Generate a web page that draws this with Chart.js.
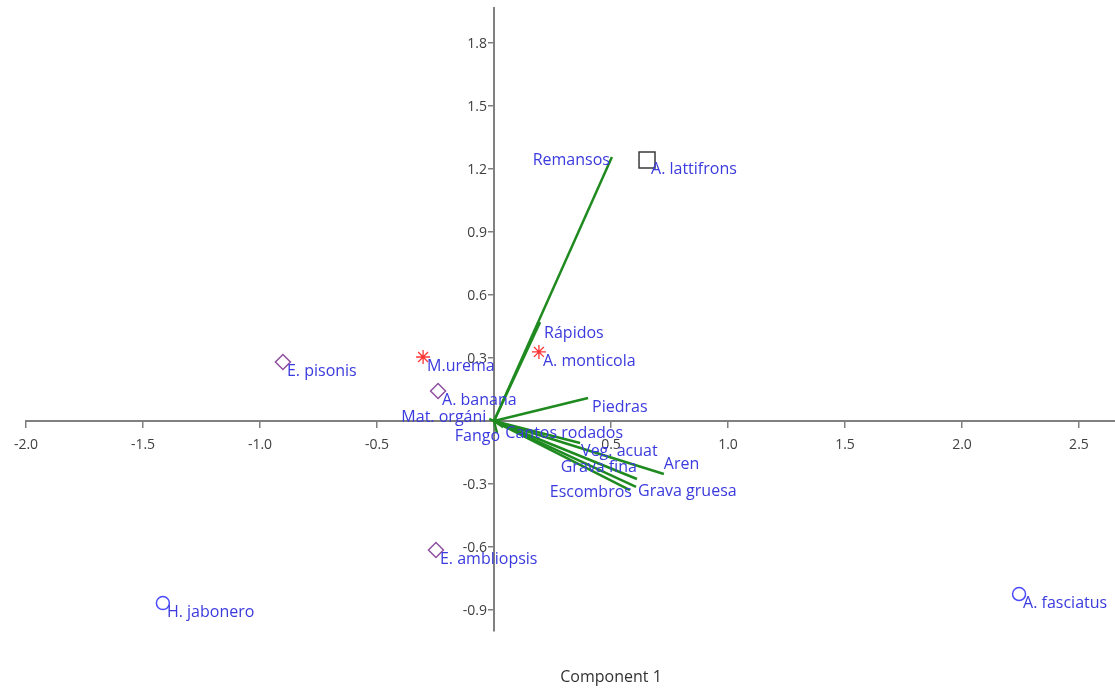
<!DOCTYPE html>
<html>
<head>
<meta charset="utf-8">
<script src="https://cdn.jsdelivr.net/npm/chart.js@4.4.1/dist/chart.umd.min.js"></script>
<style>
  html, body { margin: 0; padding: 0; background: #ffffff; }
  #wrap { width: 1115px; height: 690px; }
</style>
</head>
<body>
<div id="wrap"><canvas id="biplot" width="1115" height="690"></canvas></div>
<script>
// Species scores (Component 1, Component 2)
const speciesNames = ['A. lattifrons', 'A. monticola', 'M.urema', 'E. pisonis', 'A. banana', 'E. ambliopsis', 'H. jabonero', 'A. fasciatus'];
const speciesX = [0.654, 0.192, -0.303, -0.902, -0.239, -0.248, -1.415, 2.244];
const speciesY = [1.243, 0.329, 0.305, 0.281, 0.143, -0.614, -0.867, -0.824];
const speciesGroup = ['square', 'asterisk', 'asterisk', 'diamond', 'diamond', 'diamond', 'circle', 'circle'];

// Habitat variable loadings (vectors from the origin)
const variableNames = ['Remansos', 'Rápidos', 'Piedras', 'Mat. orgáni', 'Fango', 'Cantos rodados', 'Veg. acuat', 'Grava fina', 'Escombros', 'Grava gruesa', 'Aren'];
const variableX = [0.504, 0.197, 0.402, -0.020, 0.013, 0.040, 0.368, 0.611, 0.581, 0.607, 0.726];
const variableY = [1.257, 0.471, 0.110, 0.010, -0.057, -0.030, -0.105, -0.276, -0.329, -0.314, -0.252];

// Axis tick labels
const xTickLabels = ['-2.0', '-1.5', '-1.0', '-0.5', '0.5', '1.0', '1.5', '2.0', '2.5'];
const yTickLabels = ['-0.9', '-0.6', '-0.3', '0.3', '0.6', '0.9', '1.2', '1.5', '1.8'];
const xAxisTitle = 'Component 1';

// Marker look for each species group
const markerStyles = {
  square:   { pointStyle: 'rect',    radius: 11.3, color: '#3a3a3a', width: 1.5 },
  asterisk: { pointStyle: 'star',    radius: 7,    color: '#ff3535', width: 1.3 },
  diamond:  { pointStyle: 'rectRot', radius: 7.5,  color: '#8f4f9f', width: 1.5 },
  circle:   { pointStyle: 'circle',  radius: 6.5,  color: '#4a4aff', width: 1.5 }
};

// Text placement next to each mark: [dx, dy, align]
const labelPlacement = {
  'Remansos': [-2, 3, 'right'],
  'Rápidos': [4, 11, 'left'],
  'Piedras': [4, 10, 'left'],
  'Mat. orgáni': [-3, -1, 'right'],
  'Fango': [3, 3, 'right'],
  'Cantos rodados': [2, 6, 'left'],
  'Veg. acuat': [1, 8, 'left'],
  'Grava fina': [0, -12, 'right'],
  'Escombros': [2, 2, 'right'],
  'Grava gruesa': [2, 4, 'left'],
  'Aren': [0, -10, 'left']
};
const speciesLabelOffset = [4, 9];

const LABEL_BLUE = '#3a3ade';
const VECTOR_GREEN = '#1f8a1f';
const AXIS_GREY = '#808080';
const TICK_TEXT = '#404040';
const FONT = '"Open Sans", "Noto Sans", sans-serif';

const vectorDatasets = variableNames.map((name, i) => ({
  type: 'line',
  label: name,
  data: [{ x: 0, y: 0 }, { x: variableX[i], y: variableY[i] }],
  borderColor: VECTOR_GREEN,
  borderWidth: 2.5,
  pointRadius: 0,
  fill: false,
  tension: 0
}));

const speciesDataset = {
  type: 'scatter',
  label: 'Especies',
  data: speciesNames.map((n, i) => ({ x: speciesX[i], y: speciesY[i] })),
  pointStyle: speciesGroup.map(g => markerStyles[g].pointStyle),
  pointRadius: speciesGroup.map(g => markerStyles[g].radius),
  pointBorderColor: speciesGroup.map(g => markerStyles[g].color),
  pointBorderWidth: speciesGroup.map(g => markerStyles[g].width),
  pointBackgroundColor: 'rgba(0,0,0,0)'
};

// Tick labels beside the crossing axes (below the x axis, left of the y axis)
const axisTickText = {
  id: 'axisTickText',
  beforeDatasetsDraw(chart) {
    const { ctx, scales: { x, y } } = chart;
    const x0 = x.getPixelForValue(0);
    const y0 = y.getPixelForValue(0);
    ctx.save();
    ctx.font = '14px ' + FONT;
    ctx.fillStyle = TICK_TEXT;
    ctx.textBaseline = 'middle';
    ctx.textAlign = 'center';
    xTickLabels.forEach(t => ctx.fillText(t, x.getPixelForValue(parseFloat(t)), y0 + 24));
    ctx.textAlign = 'right';
    yTickLabels.forEach(t => ctx.fillText(t, x0 - 7, y.getPixelForValue(parseFloat(t)) + 1));
    ctx.restore();
  }
};

const textLabels = {
  id: 'textLabels',
  afterDatasetsDraw(chart) {
    const { ctx, scales: { x, y } } = chart;
    ctx.save();
    ctx.font = '16px ' + FONT;
    ctx.fillStyle = LABEL_BLUE;
    ctx.textBaseline = 'middle';
    variableNames.forEach((name, i) => {
      const p = labelPlacement[name] || [3, 0, 'left'];
      ctx.textAlign = p[2];
      ctx.fillText(name, x.getPixelForValue(variableX[i]) + p[0], y.getPixelForValue(variableY[i]) + p[1]);
    });
    ctx.textAlign = 'left';
    speciesNames.forEach((name, i) => {
      ctx.fillText(name, x.getPixelForValue(speciesX[i]) + speciesLabelOffset[0], y.getPixelForValue(speciesY[i]) + speciesLabelOffset[1]);
    });
    // axis title under the plot
    ctx.font = '16px ' + FONT;
    ctx.fillStyle = '#333333';
    ctx.textAlign = 'center';
    ctx.fillText(xAxisTitle, 611, 677);
    ctx.restore();
  }
};

function ticksFrom(labels) {
  return function (scale) {
    scale.ticks = labels.map(s => ({ value: parseFloat(s) }));
  };
}

new Chart(document.getElementById('biplot'), {
  data: { datasets: [...vectorDatasets, speciesDataset] },
  options: {
    responsive: false,
    animation: false,
    events: [],
    layout: { autoPadding: false, padding: { left: 26, right: 0, top: 8, bottom: 59 } },
    plugins: { legend: { display: false }, tooltip: { enabled: false } },
    scales: {
      x: {
        type: 'linear',
        position: { y: 0 },
        min: -2.0,
        max: 2.654,
        afterBuildTicks: ticksFrom(xTickLabels),
        grid: { drawOnChartArea: false, drawTicks: true, tickLength: 6, color: AXIS_GREY, lineWidth: 1.5 },
        border: { display: true, color: AXIS_GREY, width: 2 },
        ticks: { display: false }
      },
      y: {
        type: 'linear',
        position: { x: 0 },
        min: -1.0,
        max: 1.967,
        afterBuildTicks: ticksFrom(yTickLabels),
        grid: { drawOnChartArea: false, drawTicks: true, tickLength: 5, color: AXIS_GREY, lineWidth: 1.5 },
        border: { display: true, color: AXIS_GREY, width: 2 },
        ticks: { display: false }
      }
    }
  },
  plugins: [axisTickText, textLabels]
});
</script>
</body>
</html>
